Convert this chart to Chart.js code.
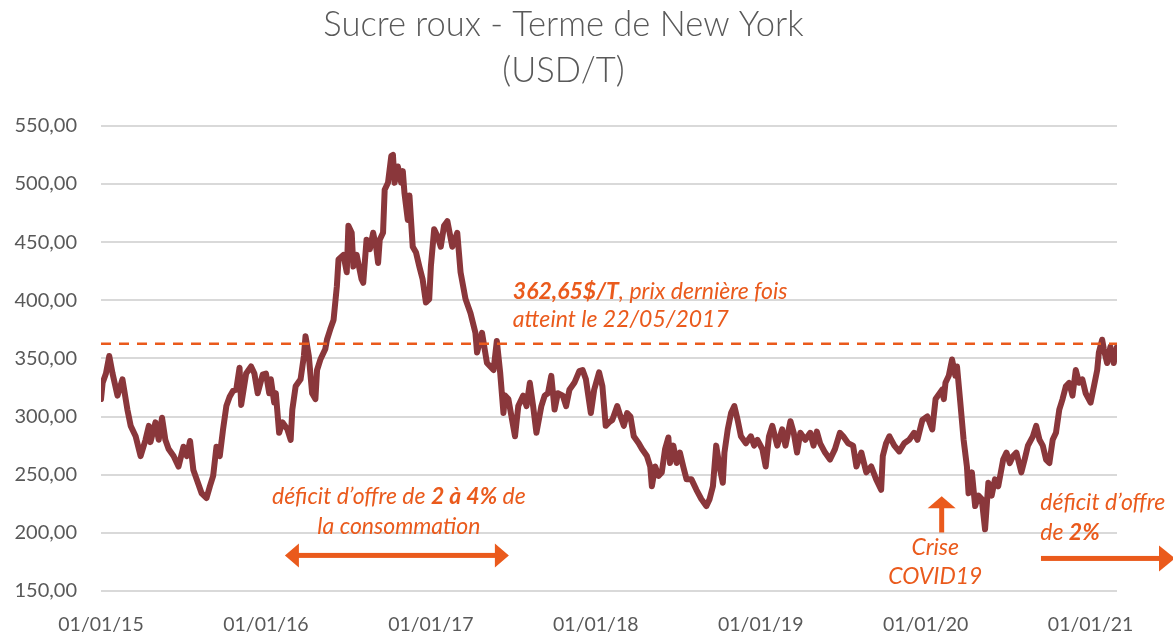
<!DOCTYPE html>
<html>
<head>
<meta charset="utf-8">
<script src="https://cdn.jsdelivr.net/npm/chart.js@4"></script>
<style>
  html, body { margin: 0; padding: 0; background: #fff; }
  #wrap { width: 1173px; height: 634px; }
</style>
</head>
<body>
<div id="wrap"><canvas id="chart" width="1173" height="634"></canvas></div>
<script>
// dates are fractional years (2015.50 = mid 2015), prices in USD/T
const dates = [
  2015.00, 2015.01, 2015.03, 2015.05, 2015.07, 2015.10, 2015.13, 2015.16, 2015.18, 2015.21, 2015.24,
  2015.27, 2015.29, 2015.30, 2015.33, 2015.35, 2015.37, 2015.39, 2015.41, 2015.44, 2015.47, 2015.50,
  2015.52, 2015.54, 2015.56, 2015.58, 2015.61, 2015.64, 2015.66, 2015.68, 2015.70, 2015.72, 2015.74,
  2015.76, 2015.78, 2015.80, 2015.82, 2015.84, 2015.85, 2015.88, 2015.91, 2015.93, 2015.95, 2015.98,
  2016.00, 2016.02, 2016.03, 2016.05, 2016.06, 2016.08, 2016.10, 2016.13, 2016.15, 2016.16, 2016.18,
  2016.21, 2016.23, 2016.24, 2016.26, 2016.28, 2016.30, 2016.31, 2016.33, 2016.36, 2016.37, 2016.39,
  2016.41, 2016.43, 2016.44, 2016.47, 2016.49, 2016.50, 2016.52, 2016.53, 2016.55, 2016.58, 2016.59,
  2016.61, 2016.63, 2016.65, 2016.67, 2016.68, 2016.69, 2016.71, 2016.72, 2016.74, 2016.76, 2016.77,
  2016.78, 2016.80, 2016.82, 2016.83, 2016.84, 2016.86, 2016.87, 2016.89, 2016.91, 2016.93, 2016.95,
  2016.97, 2016.99,
  2017.00, 2017.02, 2017.04, 2017.06, 2017.08, 2017.10, 2017.13, 2017.16, 2017.18, 2017.21, 2017.24,
  2017.27, 2017.28, 2017.31, 2017.34, 2017.38, 2017.40, 2017.42, 2017.44, 2017.45, 2017.47, 2017.51,
  2017.53, 2017.56, 2017.58, 2017.60, 2017.62, 2017.64, 2017.67, 2017.69, 2017.71, 2017.73, 2017.75,
  2017.77, 2017.80, 2017.82, 2017.84, 2017.87, 2017.90, 2017.92, 2017.94, 2017.97, 2017.99,
  2018.02, 2018.04, 2018.06, 2018.08, 2018.10, 2018.13, 2018.15, 2018.17, 2018.19, 2018.21, 2018.23,
  2018.26, 2018.28, 2018.31, 2018.33, 2018.34, 2018.36, 2018.38, 2018.40, 2018.42, 2018.44, 2018.45,
  2018.47, 2018.49, 2018.51, 2018.53, 2018.55, 2018.58, 2018.61, 2018.64, 2018.67, 2018.69, 2018.71,
  2018.73, 2018.75, 2018.77, 2018.78, 2018.80, 2018.82, 2018.84, 2018.86, 2018.88, 2018.91, 2018.94,
  2018.96, 2018.98,
  2019.01, 2019.03, 2019.05, 2019.07, 2019.10, 2019.13, 2019.15, 2019.18, 2019.20, 2019.22, 2019.24,
  2019.27, 2019.30, 2019.32, 2019.34, 2019.36, 2019.39, 2019.42, 2019.45, 2019.48, 2019.50, 2019.53,
  2019.56, 2019.58, 2019.61, 2019.64, 2019.67, 2019.70, 2019.73, 2019.74, 2019.76, 2019.78, 2019.81,
  2019.84, 2019.87, 2019.90, 2019.93, 2019.95, 2019.98,
  2020.01, 2020.04, 2020.06, 2020.10, 2020.11, 2020.12, 2020.14, 2020.16, 2020.18, 2020.19, 2020.21,
  2020.23, 2020.25, 2020.26, 2020.28, 2020.30, 2020.32, 2020.34, 2020.36, 2020.38, 2020.40, 2020.42,
  2020.44, 2020.47, 2020.49, 2020.51, 2020.53, 2020.55, 2020.58, 2020.60, 2020.62, 2020.65, 2020.67,
  2020.69, 2020.71, 2020.73, 2020.75, 2020.77, 2020.79, 2020.81, 2020.83, 2020.85, 2020.87, 2020.89,
  2020.91, 2020.93, 2020.95, 2020.97,
  2021.00, 2021.02, 2021.04, 2021.05, 2021.07, 2021.08, 2021.10, 2021.12, 2021.14, 2021.16
];
const prices = [
  315, 329, 337, 352, 337, 318, 332, 306, 292, 283, 266,
  280, 292, 278, 295, 280, 299, 280, 272, 266, 257, 274,
  266, 279, 254, 246, 234, 230, 240, 249, 274, 266, 289,
  309, 317, 322, 323, 342, 310, 337, 343, 337, 320, 336,
  337, 320, 332, 312, 320, 286, 295, 289, 280, 306, 326,
  332, 352, 369, 352, 320, 315, 340, 349, 358, 366, 375,
  383, 412, 435, 439, 424, 464, 458, 429, 439, 418, 415,
  452, 444, 458, 444, 432, 452, 458, 495, 501, 524, 525,
  501, 515, 501, 511, 492, 469, 490, 446, 441, 429, 418,
  398, 401,
  429, 461, 455, 446, 464, 468, 446, 458, 424, 401, 389,
  372, 355, 372, 346, 340, 365, 338, 303, 318, 315, 283,
  309, 318, 309, 329, 309, 286, 309, 318, 320, 335, 306,
  320, 318, 309, 323, 329, 339, 340, 332, 303, 323,
  338, 326, 292, 295, 297, 309, 300, 292, 303, 300, 283,
  277, 272, 266, 257, 240, 257, 249, 252, 272, 282, 260,
  275, 260, 269, 257, 246, 246, 237, 229, 223, 229, 240,
  275, 257, 243, 269, 289, 303, 309, 297, 283, 277, 283,
  275, 280,
  272, 257, 283, 292, 275, 289, 275, 296, 286, 269, 286,
  280, 286, 275, 287, 277, 269, 263, 272, 286, 283, 277,
  275, 257, 269, 252, 257, 246, 237, 266, 277, 283, 275,
  270, 277, 280, 286, 280, 297,
  300, 289, 315, 323, 315, 329, 335, 349, 335, 343, 312,
  280, 257, 234, 252, 223, 232, 229, 203, 243, 232, 246,
  240, 263, 269, 260, 266, 269, 252, 263, 275, 283, 292,
  280, 275, 263, 260, 280, 286, 306, 315, 326, 329, 318,
  340, 329, 332, 320,
  312, 326, 340, 355, 366, 358, 346, 360, 346, 360
];
const tickYears = [2015, 2016, 2017, 2018, 2019, 2020, 2021];
const tickLabels = ['01/01/15', '01/01/16', '01/01/17', '01/01/18', '01/01/19', '01/01/20', '01/01/21'];
const refPrice = 362.65;
const refSpan = [2015.00, 2021.16];

const orange = '#EA5A1C';

// notes drawn over the chart, anchored to the chart's own scales
const annotate = {
  id: 'annotate',
  afterDatasetsDraw(chart) {
    const ctx = chart.ctx;
    const x = chart.scales.x, y = chart.scales.y;
    const px = v => x.getPixelForValue(v);
    const py = v => y.getPixelForValue(v);

    function rich(parts, left, mid, align) {
      let w = 0;
      parts.forEach(p => {
        ctx.font = (p[1] ? 'italic bold ' : 'italic ') + '23px Lato';
        w += ctx.measureText(p[0]).width;
      });
      let cx = align === 'center' ? left - w / 2 : left;
      parts.forEach(p => {
        ctx.font = (p[1] ? 'italic bold ' : 'italic ') + '23px Lato';
        ctx.fillText(p[0], cx, mid);
        cx += ctx.measureText(p[0]).width;
      });
    }

    ctx.save();
    ctx.fillStyle = orange;
    ctx.textBaseline = 'middle';
    ctx.textAlign = 'left';

    rich([['362,65$/T', true], [', prix dernière fois', false]], px(2017.497), py(407.6), 'left');
    rich([['atteint le 22/05/2017', false]], px(2017.497), py(383.3), 'left');

    rich([['déficit d\u2019offre de ', false], ['2 à 4%', true], [' de', false]], px(2016.806), py(231.5), 'center');
    rich([['la consommation', false]], px(2016.806), py(205.8), 'center');

    rich([['Crise', false]], px(2020.058), py(187.5), 'center');
    rich([['COVID19', false]], px(2020.058), py(162.8), 'center');

    rich([['déficit d\u2019offre', false]], px(2020.695), py(226.1), 'left');
    rich([['de ', false], ['2%', true]], px(2020.695), py(200.3), 'left');

    // double arrow
    let a = px(2016.115), b = px(2017.473), ay = py(180.6);
    ctx.fillRect(a + 12, ay - 2.5, b - a - 24, 5);
    ctx.beginPath();
    ctx.moveTo(a, ay); ctx.lineTo(a + 14, ay - 12); ctx.lineTo(a + 14, ay + 12); ctx.closePath();
    ctx.moveTo(b, ay); ctx.lineTo(b - 14, ay - 12); ctx.lineTo(b - 14, ay + 12); ctx.closePath();
    ctx.fill();

    // up arrow
    let ux = px(2020.097), top = py(231.5), base = py(200.3);
    ctx.fillRect(ux - 2.5, top + 10, 5, base - top - 10);
    ctx.beginPath();
    ctx.moveTo(ux, top); ctx.lineTo(ux + 14, top + 12); ctx.lineTo(ux - 14, top + 12); ctx.closePath();
    ctx.fill();

    // right arrow running off the edge
    let rx = px(2020.699), ry = py(178), tip = chart.width + 2;
    ctx.fillRect(rx, ry - 2.5, tip - rx - 14, 5);
    ctx.beginPath();
    ctx.moveTo(tip, ry); ctx.lineTo(tip - 16, ry - 13); ctx.lineTo(tip - 16, ry + 13); ctx.closePath();
    ctx.fill();
    ctx.restore();
  }
};

const ctx = document.getElementById('chart').getContext('2d');
new Chart(ctx, {
  type: 'line',
  data: {
    datasets: [
      {
        label: 'Sucre roux',
        data: dates.map((d, i) => ({ x: d, y: prices[i] })),
        borderColor: '#8A373B',
        borderWidth: 6,
        pointRadius: 0,
        tension: 0,
        borderJoinStyle: 'round',
        borderCapStyle: 'round',
        order: 1
      },
      {
        label: 'ref',
        data: refSpan.map(d => ({ x: d, y: refPrice })),
        borderColor: orange,
        borderWidth: 2.5,
        borderDash: [10, 8],
        pointRadius: 0,
        order: 0
      }
    ]
  },
  options: {
    responsive: false,
    animation: false,
    layout: { padding: { left: 10, right: 56, top: 0, bottom: 0 } },
    plugins: {
      legend: { display: false },
      tooltip: { enabled: false },
      title: {
        display: true,
        text: ['Sucre roux - Terme de New York', '(USD/T)'],
        color: '#595959',
        font: { family: 'Lato', size: 34.5, weight: '300', lineHeight: 1.33 },
        padding: { top: 2, bottom: 32 }
      }
    },
    scales: {
      x: {
        type: 'linear',
        min: refSpan[0],
        max: refSpan[1],
        afterBuildTicks: s => { s.ticks = tickYears.map(v => ({ value: v })); },
        afterFit: s => { s.height = 43; },
        grid: { display: false },
        border: { display: false },
        ticks: {
          autoSkip: false,
          maxRotation: 0,
          padding: 14,
          color: '#595959',
          font: { family: 'Lato', size: 19.5 },
          callback: v => tickLabels[tickYears.indexOf(v)]
        }
      },
      y: {
        min: 150,
        max: 550,
        afterFit: s => { s.width = 91; },
        border: { display: false },
        grid: { color: '#D9D9D9', lineWidth: 2, drawTicks: false },
        ticks: {
          stepSize: 50,
          padding: 24,
          color: '#595959',
          font: { family: 'Lato', size: 20 },
          callback: v => v.toFixed(2).replace('.', ',')
        }
      }
    }
  },
  plugins: [annotate]
});
</script>
</body>
</html>
